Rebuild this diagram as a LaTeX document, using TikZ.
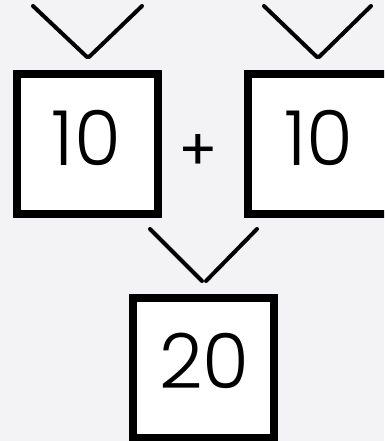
\documentclass[tikz,border=0pt]{standalone}
\usepackage{fontspec}
\setmainfont{Poppins Light}
\newfontfamily\plusfont{Poppins}
\definecolor{bg}{RGB}{243,242,245}
\begin{document}
\begin{tikzpicture}[x=1pt,y=-1pt,
  boxnode/.style={draw=black,fill=white,line width=8pt,minimum width=141pt,minimum height=140pt,inner sep=0pt},
  numtext/.style={font=\fontsize{76}{76}\selectfont,inner sep=0pt,anchor=base},
  vline/.style={line width=4pt,line cap=round},
  optext/.style={font=\plusfont\fontsize{58}{58}\selectfont,inner sep=0pt}]
\fill[bg] (0,0) rectangle (384,441);
\useasboundingbox (0,0) rectangle (384,441);
\begin{scope}
\clip (0,0) rectangle (384,441);
\node[boxnode] (boxa) at (87.5,144) {};
\node[boxnode] (boxb) at (318.5,144) {};
\node[boxnode] (boxc) at (203.5,367.5) {};
\node[numtext] (texta) at (86.5,165) {10};
\node[numtext] (textb) at (318.5,165) {10};
\node[numtext] (textc) at (204.5,388) {20};
\node[optext] (plus) at (198,152.5) {+};
\coordinate (a1) at (33,6);
\coordinate (a2) at (87,57);
\coordinate (a3) at (142,6);
\coordinate (a4) at (89,57);
\coordinate (b1) at (264,6);
\coordinate (b2) at (317,57);
\coordinate (b3) at (371,6);
\coordinate (b4) at (319,57);
\coordinate (c1) at (150,229);
\coordinate (c2) at (202,281);
\coordinate (c3) at (257,229);
\coordinate (c4) at (206,281);
\draw[vline] (a1) -- (a2);
\draw[vline] (a3) -- (a4);
\draw[vline] (b1) -- (b2);
\draw[vline] (b3) -- (b4);
\draw[vline] (c1) -- (c2);
\draw[vline] (c3) -- (c4);
\end{scope}
\end{tikzpicture}
\end{document}
